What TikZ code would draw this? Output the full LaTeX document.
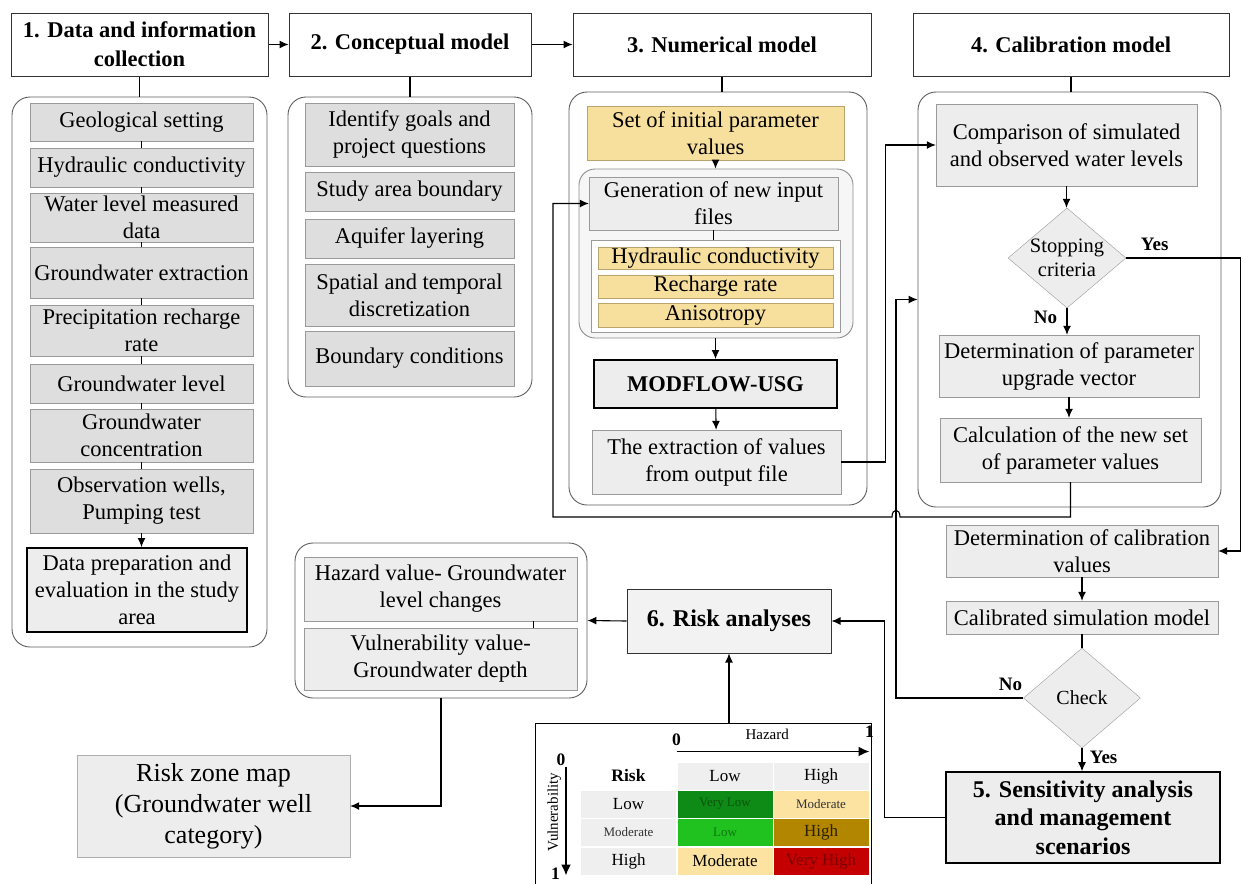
\documentclass[tikz,border=0pt]{standalone}
\usepackage{fontspec}
\setmainfont{Liberation Serif}
\usetikzlibrary{shapes.geometric, arrows.meta, positioning, fit, calc}
\definecolor{boxGrey}{HTML}{DEDEDE}
\definecolor{boxLight}{HTML}{EDEDED}
\definecolor{edgeGrey}{HTML}{9A9A9A}
\definecolor{groupEdge}{HTML}{5E5E5E}
\definecolor{paramYellow}{HTML}{F7DF9D}
\definecolor{paramEdge}{HTML}{B9A46E}
\definecolor{cellGrey}{HTML}{EFEFEF}
\definecolor{veryLowGreen}{HTML}{0E8A16}
\definecolor{veryLowText}{HTML}{0B560B}
\definecolor{lowGreen}{HTML}{20C220}
\definecolor{lowText}{HTML}{0E780E}
\definecolor{moderateYellow}{HTML}{FDE3A1}
\definecolor{highGold}{HTML}{B38600}
\definecolor{highText}{HTML}{2B2000}
\definecolor{veryHighRed}{HTML}{C40000}
\definecolor{veryHighText}{HTML}{7C0000}
\newcommand{\riskBold}{\fontsize{17.5}{20}\selectfont\bfseries}
\newcommand{\riskBig}{\fontsize{17}{20}\selectfont}
\newcommand{\riskSmall}{\fontsize{13}{15}\selectfont}

\begin{document}
\begin{tikzpicture}[x=1pt, y=-1pt, >=Latex,
        font=\fontsize{22.5}{27}\selectfont,
        item/.style={draw=edgeGrey, fill=boxGrey, align=center, inner sep=0pt},
        litem/.style={item, fill=boxLight},
        gitem/.style={item, minimum width=223pt},
        citem/.style={item, minimum width=209pt},
        par/.style={item, draw=paramEdge, fill=paramYellow, minimum width=235pt},
        head/.style={draw=black!80, fill=white, line width=1pt, align=center, inner sep=0pt,
            minimum height=63pt, font=\fontsize{22.5}{29}\selectfont\bfseries},
        key/.style={draw=black, line width=2pt, fill=boxLight, align=center, inner sep=0pt},
        grp/.style={draw=groupEdge, line width=0.9pt, rounded corners=18pt, fill=white, inner sep=0pt},
        dec/.style={diamond, draw=edgeGrey, fill=boxLight, inner sep=0pt,
            minimum width=118pt, minimum height=100pt},
        arr/.style={-{Latex[length=9pt,width=8pt]}, line width=1.1pt},
        axis/.style={-{Latex[length=11pt,width=10pt]}, line width=1.8pt},
        ln/.style={line width=1.1pt},
        yn/.style={font=\fontsize{19}{22}\selectfont\bfseries},
        cell/.style={draw=white, line width=1pt, minimum width=96pt, minimum height=28pt, inner sep=0pt}]
    \useasboundingbox (0,0) rectangle (1243,884);

    \node[head, minimum width=257pt] (h1) at (139.5,44.5) {1. Data and information\\collection};
    \node[head, minimum width=242pt] (h2) at (410,44.5)   {2. Conceptual model};
    \node[head, minimum width=298pt] (h3) at (722,44.5)   {3. Numerical model};
    \node[head, minimum width=316pt] (h4) at (1071,44.5)  {4. Calibration model};
    \draw[arr] (h1) -- (h2);
    \draw[arr] (h2) -- (h3);

    \node[grp, fit={(12,97) (267,647)}]   (g1) {};
    \node[grp, fit={(288,97) (532,397)}]  (g2) {};
    \node[grp, fit={(569,92) (867,505)}]  (g3) {};
    \node[grp, fit={(918,92) (1221,507)}] (g4) {};
    \node[grp, fit={(295,543) (587,698)}] (g6) {};
    \foreach \h/\g in {h1/g1,h2/g2,h3/g3,h4/g4} \draw[ln] (\h.south) -- (\h.south |- \g.north);

    \node[gitem, minimum height=38pt] (geo) at (141.5,122)   {Geological setting};
    \node[gitem, minimum height=39pt] (hyd) at (141.5,167.5) {Hydraulic conductivity};
    \node[gitem, minimum height=49pt] (wat) at (141.5,217.5) {Water level measured\\data};
    \node[gitem, minimum height=51pt] (ext) at (141.5,272.5) {Groundwater extraction};
    \node[gitem, minimum height=51pt] (pre) at (141.5,330.5) {Precipitation recharge\\rate};
    \node[gitem, minimum height=39pt] (gwl) at (141.5,383.5) {Groundwater level};
    \node[gitem, minimum height=53pt] (gwc) at (141.5,435.5) {Groundwater\\concentration};
    \node[gitem, minimum height=64pt] (obs) at (141.5,501)   {Observation wells,\\Pumping test};
    \node[key, minimum width=220pt, minimum height=84pt] (prep) at (137,590)
        {Data preparation and\\evaluation in the study\\area};
    \foreach \a/\b in {geo/hyd,hyd/wat,wat/ext,ext/pre,pre/gwl,gwl/gwc,gwc/obs}
        \draw[line width=0.8pt] (\a) -- (\b);
    \draw[arr] (obs.south) -- (obs.south |- prep.north);

    \node[citem, minimum height=63pt] (goal) at (409.5,134.5) {Identify goals and\\project questions};
    \node[citem, minimum height=39pt] (bnd)  at (409.5,191.5) {Study area boundary};
    \node[citem, minimum height=39pt] (lay)  at (409.5,238.5) {Aquifer layering};
    \node[citem, minimum height=62pt] (dis)  at (409.5,295)   {Spatial and temporal\\discretization};
    \node[citem, minimum height=55pt] (bc)   at (409.5,358.5) {Boundary conditions};

    \node[par, minimum width=257pt, minimum height=54pt] (init) at (715.5,133) {Set of initial parameter\\values};
    \node[grp, draw=groupEdge!70, fill=boxLight!50, rounded corners=16pt, fit={(579,169) (853,338)}] (g3b) {};
    \node[draw=edgeGrey, fill=white, inner sep=0pt, fit={(591,240) (840,332)}] (pbox) {};
    \node[litem, minimum width=249pt, minimum height=53pt] (gen) at (713.5,203.5) {Generation of new input\\files};
    \node[par, minimum height=22pt] (kx)  at (715.5,258)   {Hydraulic conductivity};
    \node[par, minimum height=23pt] (rch) at (715.5,286.5) {Recharge rate};
    \node[par, minimum height=24pt] (ani) at (715.5,315)   {Anisotropy};
    \node[key, minimum width=243pt, minimum height=48pt, font=\fontsize{22.5}{27}\selectfont\bfseries]
        (mod) at (715.5,384) {MODFLOW-USG};
    \node[litem, minimum width=249pt, minimum height=64pt] (out) at (716.5,462) {The extraction of values\\from output file};
    \draw[arr] (init.south) -- (init.south |- g3b.north);
    \draw[ln] (gen.south) -- (gen.south |- pbox.north);
    \draw[arr] (g3b.south -| mod.north) -- (mod.north);
    \draw[arr] (mod) -- (out);

    \node[litem, minimum width=261pt, minimum height=82pt] (cmp) at (1066.5,145) {Comparison of simulated\\and observed water levels};
    \node[dec, label={[align=center, font=\fontsize{20.5}{24}\selectfont]center:{Stopping\\criteria}}] (stop) at (1067,258) {};
    \node[litem, minimum width=260pt, minimum height=62pt] (upd)  at (1069,366)   {Determination of parameter\\upgrade vector};
    \node[litem, minimum width=261pt, minimum height=64pt] (calc) at (1070.5,450) {Calculation of the new set\\of parameter values};
    \draw[arr] (cmp.south) -- (cmp.south |- stop.north);
    \draw[arr] (stop.south) -- node[pos=.35, left=6pt, yn] {No} (stop.south |- upd.north);
    \draw[arr] (upd.south) -- (upd.south |- calc.north);

    \node[litem, minimum width=272pt, minimum height=52pt] (calv) at (1082,551)   {Determination of calibration\\values};
    \node[litem, minimum width=272pt, minimum height=33pt] (calm) at (1082,617.5) {Calibrated simulation model};
    \node[dec, minimum width=117pt, label={[font=\fontsize{20}{24}\selectfont]center:Check}] (check) at (1082,698) {};
    \node[key, line width=1.6pt, minimum width=274pt, minimum height=91pt, font=\fontsize{24}{28.5}\selectfont\bfseries]
        (sens) at (1083,817.5) {5. Sensitivity analysis\\and management\\scenarios};
    \draw[arr] (calv) -- (calm);
    \draw[ln] (calm) -- (check);
    \draw[arr] (check.south) -- node[pos=.4, right=4pt, yn] {Yes} (check.south |- sens.north);

    \coordinate (hop) at (896,517);
    \coordinate (lp) at (553,517);
    \draw[arr] (out.east) -- ++(44,0) |- (cmp.west);
    \draw[arr] (calc.south) -- (calc.south |- hop) -- ([xshift=4pt]hop)
        .. controls ([xshift=4pt,yshift=9pt]hop) and ([xshift=-4pt,yshift=9pt]hop) .. ([xshift=-4pt]hop)
        -- (lp) |- (gen.west);
    \draw[arr] (check.west) -- node[pos=.1, above=3pt, yn] {No} (check.west -| hop) |- (g4.west);
    \draw[arr] (stop.east) -- node[pos=.25, above=3pt, yn] {Yes} ++(114,0) |- (calv.east);

    \node[litem, minimum width=273pt, minimum height=64pt] (haz) at (440.5,589) {Hazard value- Groundwater\\level changes};
    \node[litem, minimum width=273pt, minimum height=62pt] (vul) at (440.5,659) {Vulnerability value-\\Groundwater depth};
    \draw[line width=0.8pt] (haz.south -| 533,0) -- (vul.north -| 533,0);
    \node[draw=black!80, line width=1pt, fill=boxLight!70, minimum width=204pt, minimum height=64pt, inner sep=0pt,
        font=\fontsize{24}{28}\selectfont\bfseries] (risk) at (729,621) {6. Risk analyses};
    \node[item, fill=boxLight, draw=edgeGrey!80, minimum width=273pt, minimum height=102pt,
        font=\fontsize{26}{31}\selectfont] (map) at (213.5,806) {Risk zone map\\(Groundwater well\\category)};
    \draw[arr] (risk.west) -- (g6.east);
    \draw[arr] (g6.south) |- (map.east);
    \draw[arr] (sens.west) -- ++(-61,0) |- (risk.east);

    \node[fit={(536,724) (871,884)}, inner sep=0pt] (tab) {};
    \draw[line width=1pt] (tab.south west) |- (tab.north east) -- (tab.south east);
    \draw[arr] (tab.north -| risk.south) -- (risk.south);
    \foreach \x/\y/\f/\s/\c/\t [count=\i] in {
        628.5/776/white/\riskBold/black/Risk,
        725/776/cellGrey/\riskBig/black/Low,
        821/776/cellGrey/\riskBig/black/High,
        628.5/804/cellGrey/\riskBig/black/Low,
        725/804/veryLowGreen/\riskSmall/veryLowText/Very Low,
        821/804/moderateYellow/\riskSmall/black!80/Moderate,
        628.5/832.5/cellGrey/\riskSmall/black!80/Moderate,
        725/832.5/lowGreen/\riskSmall/lowText/Low,
        821/832.5/highGold/\riskBig/highText/High,
        628.5/861/cellGrey/\riskBig/black/High,
        725/861/moderateYellow/\riskBig/black/Moderate,
        821/861/veryHighRed/\riskBig/veryHighText/Very High}
        \node[cell, fill=\f, font=\s, text=\c] (c\i) at (\x,\y) {\t};
    \draw[axis] ([yshift=10pt]c2.north west) --
        node[pos=0, anchor=south, yshift=2pt, font=\riskBold] {0}
        node[pos=.47, anchor=south, yshift=8pt, font=\fontsize{15}{17}\selectfont] {Hazard}
        node[pos=1, anchor=south, yshift=10pt, font=\riskBold] {1}
        ([yshift=10pt]c3.north east);
    \draw[axis] ([xshift=-14pt,yshift=-5pt]c1.north west) --
        node[pos=0, anchor=south, xshift=-5pt, yshift=-3pt, font=\riskBold] {0}
        node[pos=.42, rotate=90, anchor=south, inner sep=4pt, font=\fontsize{15}{17}\selectfont] {Vulnerability}
        node[pos=1, anchor=east, xshift=-2pt, yshift=2pt, font=\riskBold] {1}
        ([xshift=-14pt]c10.south west);
\end{tikzpicture}
\end{document}
